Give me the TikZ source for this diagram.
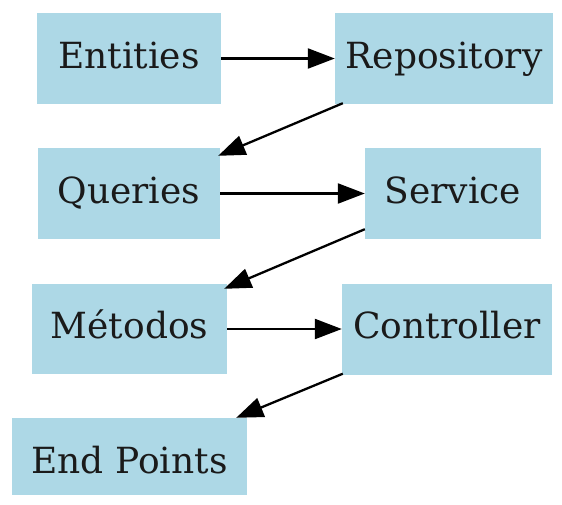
\documentclass[tikz,border=0pt]{standalone}
\usepackage{fontspec}
\setmainfont{DejaVu Serif}
\usetikzlibrary{arrows.meta,calc}
\definecolor{boxblue}{HTML}{ADD8E6}
\definecolor{inktext}{HTML}{1A1A1A}
\tikzset{
  box/.style={fill=boxblue, draw=none, inner sep=0pt, text=inktext,
              font=\fontsize{36}{42}\selectfont,
              text height=26pt, text depth=7pt, minimum height=91pt},
  link/.style={line width=2.3pt, -{Triangle[length=27pt,width=20pt]}}
}
\begin{document}
\begin{tikzpicture}[x=1pt,y=-1pt]
  \useasboundingbox[fill=white] (0,0) rectangle (562,504);

  % first row
  \node[box, minimum width=184pt] (ent) at (129,58.5) {Entities};
  \node[box, minimum width=218pt] (rep) at (444,58.5) {Repository};
  % second row
  \node[box, minimum width=182pt] (qry) at (129,193.5) {Queries};
  \node[box, minimum width=176pt] (srv) at (453,193.5) {Service};
  % third row
  \node[box, minimum width=195pt, minimum height=90pt] (met) at (129.5,329) {Métodos};
  \node[box, minimum width=210pt] (ctl) at (447,329) {Controller};
  % last row, its box cut short at the bottom
  \node[box, minimum width=235pt, minimum height=77pt, text height=40pt] (ep) at (129.5,456.5) {End Points};

  % horizontal links
  \draw[link] (ent.east) -- (rep.west);
  \draw[link] (qry.east) -- (srv.west);
  \draw[link] (met.east) -- (ctl.west);

  % diagonal links back to the left column
  \draw[link] ($(rep.south west)+(8,-1)$) -- ($(qry.north east)+(-2,8)$);
  \draw[link] ($(srv.south west)+(0,-10)$) -- ($(met.north east)+(-3,5)$);
  \draw[link] ($(ctl.south west)+(1,-1)$) -- ($(ep.north east)+(-11,0)$);
\end{tikzpicture}
\end{document}
